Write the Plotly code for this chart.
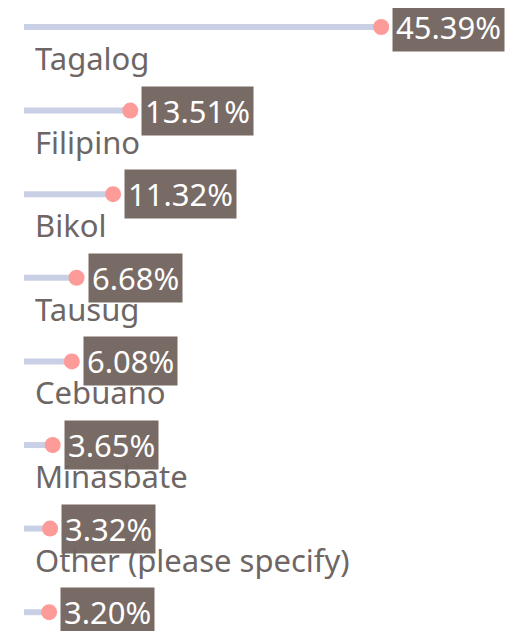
import plotly.graph_objects as go

## Data

languages = ["Tagalog", "Filipino", "Bikol", "Tausug", "Cebuano",
             "Minasbate", "Other (please specify)", "Waray"]
shares = [45.39, 13.51, 11.32, 6.68, 6.08, 3.65, 3.32, 3.20]

rows = list(range(len(languages)))

fig = go.Figure()

# stems
for r, v in zip(rows, shares):
    fig.add_trace(go.Scatter(
        x = [0, v], y = [r, r], mode = 'lines',
        line = dict(color = '#c9d0e6', width = 6), hoverinfo = 'skip', showlegend = False
    ))

# dots
fig.add_trace(go.Scatter(
    x = shares, y = rows, mode = 'markers',
    marker = dict(color = '#fd9b98', size = 16), showlegend = False
))

# data labels and category names
for r, v, name in zip(rows, shares, languages):
    fig.add_annotation(
        x = v, y = r, text = f"{v:.2f}%", showarrow = False,
        xanchor = 'left', yanchor = 'middle', xshift = 11,
        bgcolor = '#786a64', borderpad = 3,
        font = dict(family = 'Noto Sans', size = 31, color = 'white')
    )
    fig.add_annotation(
        x = 0, y = r, text = name, showarrow = False,
        xanchor = 'left', yanchor = 'middle', xshift = 9, yshift = -31,
        font = dict(family = 'Noto Sans', size = 31, color = '#6e6664')
    )

# page body has an 8px margin, so the figure is sized to the remaining area
fig.update_layout(
    width = 508, height = 623, margin = dict(l = 0, r = 0, t = 0, b = 0),
    plot_bgcolor = 'white', paper_bgcolor = 'white',
    xaxis = dict(range = [-2.03, 62.52], visible = False, fixedrange = True),
    yaxis = dict(range = [7.225, -0.227], visible = False, fixedrange = True),
)

fig.write_html("out.html")
